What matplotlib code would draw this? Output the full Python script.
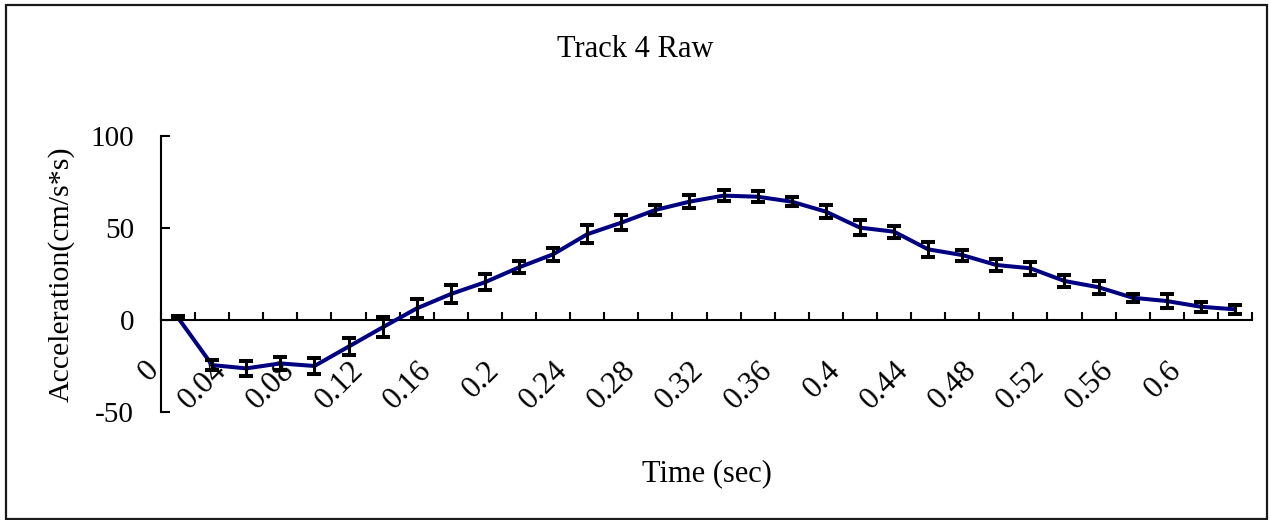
import matplotlib
matplotlib.use("Agg")
import matplotlib.pyplot as plt
import matplotlib.transforms as mtransforms
from matplotlib.patches import Rectangle

plt.rcParams["font.family"] = ["Liberation Serif", "DejaVu Serif"]

# sample times (s) and mean acceleration with spread
time_s = [0, 0.02, 0.04, 0.06, 0.08, 0.1, 0.12, 0.14, 0.16, 0.18,
          0.2, 0.22, 0.24, 0.26, 0.28, 0.3, 0.32, 0.34, 0.36, 0.38,
          0.4, 0.42, 0.44, 0.46, 0.48, 0.5, 0.52, 0.54, 0.56, 0.58,
          0.6, 0.62]
accel = [1.2, -24.5, -26.3, -23.6, -25.0, -14.5, -4.0, 6.3, 14.1, 20.5,
         28.6, 35.7, 46.6, 52.9, 59.8, 64.3, 67.6, 67.0, 64.3, 58.9,
         50.2, 48.0, 38.4, 35.3, 29.9, 28.1, 21.2, 17.8, 12.1, 10.3,
         7.2, 5.8]
accel_err = [0.8, 2.9, 4.2, 3.4, 4.3, 4.5, 5.4, 5.3, 5.0, 4.4,
             3.2, 3.4, 5.0, 3.9, 2.7, 3.4, 2.9, 2.9, 2.5, 3.4,
             4.0, 3.2, 4.0, 3.0, 3.0, 3.6, 3.0, 3.4, 2.3, 4.0,
             2.7, 2.3]
y_ticks = [-50, 0, 50, 100]

W, H = 1271, 520
fig = plt.figure(figsize=(W / 100, H / 100), dpi=100)
ax = fig.add_axes([161 / W, 1 - 412 / H, (1252 - 161) / W, (412 - 136) / H])

# category axis: each sample sits in the middle of its slot
pos = [i + 0.5 for i in range(len(time_s))]
ax.plot(pos, accel, color="#000080", lw=2.9, zorder=3)
ax.errorbar(pos, accel, yerr=accel_err, fmt="none", ecolor="black",
            elinewidth=2.2, capsize=5.0, capthick=2.9, zorder=4)

ax.set_xlim(0, len(time_s))
ax.set_ylim(-50, 100)
ax.set_yticks(y_ticks)
ax.set_yticklabels([str(v) for v in y_ticks])

ax.spines["top"].set_visible(False)
ax.spines["right"].set_visible(False)
ax.spines["bottom"].set_position(("data", 0))
for s in ("left", "bottom"):
    ax.spines[s].set_linewidth(1.5)

# slot boundaries get ticks, every second sample gets a label
ax.set_xticks(range(len(time_s) + 1))
ax.set_xticklabels([])
ax.set_xticks(pos[::2], [f"{t:g}" for t in time_s[::2]], minor=True)
ax.tick_params(axis="x", which="major", direction="in", length=6, width=1.5)
ax.tick_params(axis="x", which="minor", length=0, pad=0, labelsize=22.5)
ax.tick_params(axis="y", direction="in", length=6.5, width=1.5,
               pad=19.5, labelsize=21)

shift = mtransforms.ScaledTranslation(-24 / 100, -46 / 100, fig.dpi_scale_trans)
for lab in ax.get_xticklabels(minor=True):
    lab.set_rotation(45)
    lab.set_rotation_mode("anchor")
    lab.set_ha("right")
    lab.set_va("center")
    lab.set_transform(lab.get_transform() + shift)

ax.set_xlabel("Time (sec)", fontsize=22, va="baseline")
ax.xaxis.set_label_coords(0.5, (412 - 481) / 276)
ax.set_ylabel("Acceleration(cm/s*s)", fontsize=21.5, va="baseline")
ax.yaxis.set_label_coords((68 - 161) / 1091, 0.5)

fig.text(0.5, 1 - 57 / H, "Track 4 Raw", ha="center", va="baseline",
         fontsize=22)

# chart area frame
fig.patches.append(Rectangle((6 / W, 1.5 / H), (1267 - 6) / W, (515 - 1.5) / H,
                             transform=fig.transFigure, fill=False,
                             edgecolor="#1a1a1a", lw=1.6))

fig.savefig("out.png", dpi=100)
